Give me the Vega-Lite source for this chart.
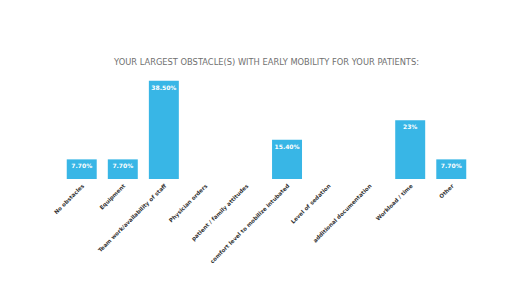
{
  "$schema": "https://vega.github.io/schema/vega-lite/v6.json",
  "autosize": "none",
  "width": 411,
  "height": 102,
  "padding": {"left": 61, "top": 77, "right": 38, "bottom": 112},
  "background": "white",
  "config": {"view": {"stroke": null}, "font": "DejaVu Sans"},
  "title": {
    "text": "YOUR LARGEST OBSTACLE(S) WITH EARLY MOBILITY FOR YOUR PATIENTS:",
    "fontSize": 8.3,
    "fontWeight": "normal",
    "color": "#707070",
    "offset": 11,
    "anchor": "middle"
  },
  "data": {
    "values": [
      {"category": "No obstacles", "pct": 7.7, "label": "7.70%"},
      {"category": "Equipment", "pct": 7.7, "label": "7.70%"},
      {"category": "Team work/availability of staff", "pct": 38.5, "label": "38.50%"},
      {"category": "Physician orders", "pct": 0, "label": ""},
      {"category": "patient / family attitudes", "pct": 0, "label": ""},
      {"category": "comfort level to mobilize intubated", "pct": 15.4, "label": "15.40%"},
      {"category": "Level of sedation", "pct": 0, "label": ""},
      {"category": "additional documentation", "pct": 0, "label": ""},
      {"category": "Workload / time", "pct": 23, "label": "23%"},
      {"category": "Other", "pct": 7.7, "label": "7.70%"}
    ]
  },
  "encoding": {
    "x": {
      "field": "category",
      "type": "nominal",
      "sort": null,
      "scale": {"paddingInner": 0.27, "paddingOuter": 0.14},
      "axis": {
        "title": null,
        "labelAngle": -45,
        "labelFontSize": 5.5,
        "labelFontWeight": "bold",
        "labelColor": "#333333",
        "domain": false,
        "ticks": false,
        "labelPadding": 4,
        "labelLimit": 200
      }
    },
    "y": {
      "field": "pct",
      "type": "quantitative",
      "scale": {"domain": [0, 40]},
      "axis": null
    }
  },
  "layer": [
    {"mark": {"type": "bar", "color": "#38b6e6"}},
    {
      "mark": {"type": "text", "color": "white", "fontSize": 6, "fontWeight": "bold", "baseline": "top", "dy": 4},
      "encoding": {"text": {"field": "label"}}
    }
  ]
}
